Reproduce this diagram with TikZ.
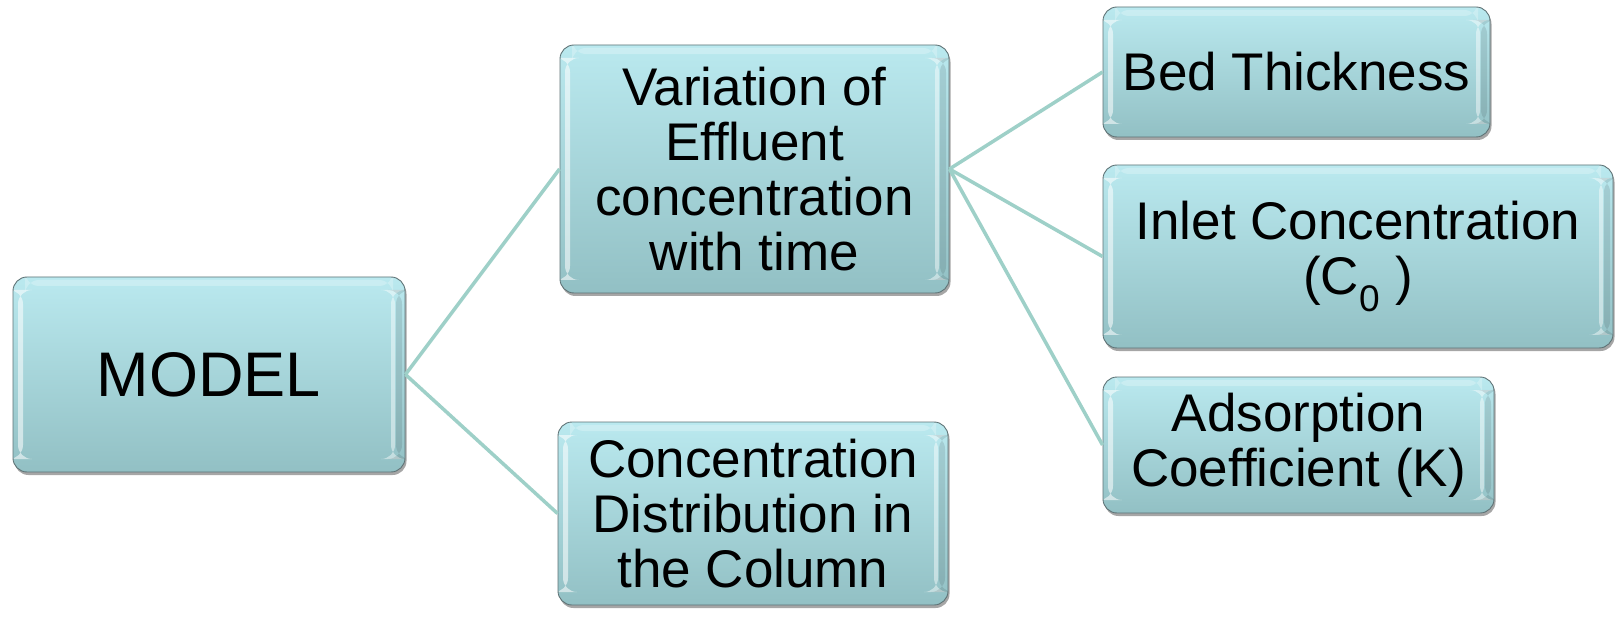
\documentclass[tikz,border=0pt]{standalone}
\usepackage{fontspec}
\setmainfont{Liberation Sans}
\usetikzlibrary{shadows}
\definecolor{boxtop}{RGB}{186,233,239}
\definecolor{boxbot}{RGB}{146,192,196}
\definecolor{boxedge}{RGB}{95,115,118}
\definecolor{linkc}{RGB}{158,208,200}
\begin{document}
\begin{tikzpicture}[x=1pt,y=-1pt,
  box/.style={rounded corners=14pt, draw=boxedge, line width=0.9pt,
    top color=boxtop, bottom color=boxbot, align=center, inner sep=0pt,
    text=black, font=\fontsize{53}{55}\selectfont,
    drop shadow={shadow xshift=1.5pt, shadow yshift=-3pt, opacity=0.35, fill=black},
    path picture={
      \fill[white,opacity=0.55] ([xshift=5pt,yshift=-13pt]path picture bounding box.north west) rectangle ([xshift=10pt,yshift=13pt]path picture bounding box.south west);
      \fill[white,opacity=0.45] ([xshift=-14pt,yshift=-13pt]path picture bounding box.north east) rectangle ([xshift=-10pt,yshift=13pt]path picture bounding box.south east);
      \fill[black,opacity=0.10] ([xshift=-9pt,yshift=-13pt]path picture bounding box.north east) rectangle ([xshift=-3pt,yshift=13pt]path picture bounding box.south east);
      \fill[white,opacity=0.25] ([xshift=12pt,yshift=-3pt]path picture bounding box.north west) rectangle ([xshift=-12pt,yshift=-9pt]path picture bounding box.north east);
    }},
  link/.style={draw=linkc, line width=3.5pt}]
\useasboundingbox (0,0) rectangle (1616,617);
\fill[white] (0,0) rectangle (1616,617);
% links first (behind boxes)
\node[box, minimum width=392pt, minimum height=195pt, font=\fontsize{63}{66}\selectfont] (model) at (209,374.5) {MODEL};
\node[box, minimum width=389pt, minimum height=248pt] (var) at (754.5,169) {Variation of\\Effluent\\concentration\\with time};
\node[box, minimum width=390pt, minimum height=183pt] (dist) at (753,513.5) {Concentration\\Distribution in\\the Column};
\node[box, minimum width=387pt, minimum height=130pt] (bed) at (1296.5,72) {Bed Thickness};
\node[box, minimum width=510pt, minimum height=183pt] (inlet) at (1358,256.5) {Inlet Concentration\\(C\textsubscript{0} )};
\node[box, minimum width=391pt, minimum height=136pt] (ads) at (1298.5,445) {Adsorption\\Coefficient (K)};
\begin{scope}[on background layer/.try]
\end{scope}
\draw[link] (model.east) -- (var.west);
\draw[link] (model.east) -- (dist.west);
\draw[link] (var.east) -- (bed.west);
\draw[link] (var.east) -- (inlet.west);
\draw[link] (var.east) -- (ads.west);
\end{tikzpicture}
\end{document}
